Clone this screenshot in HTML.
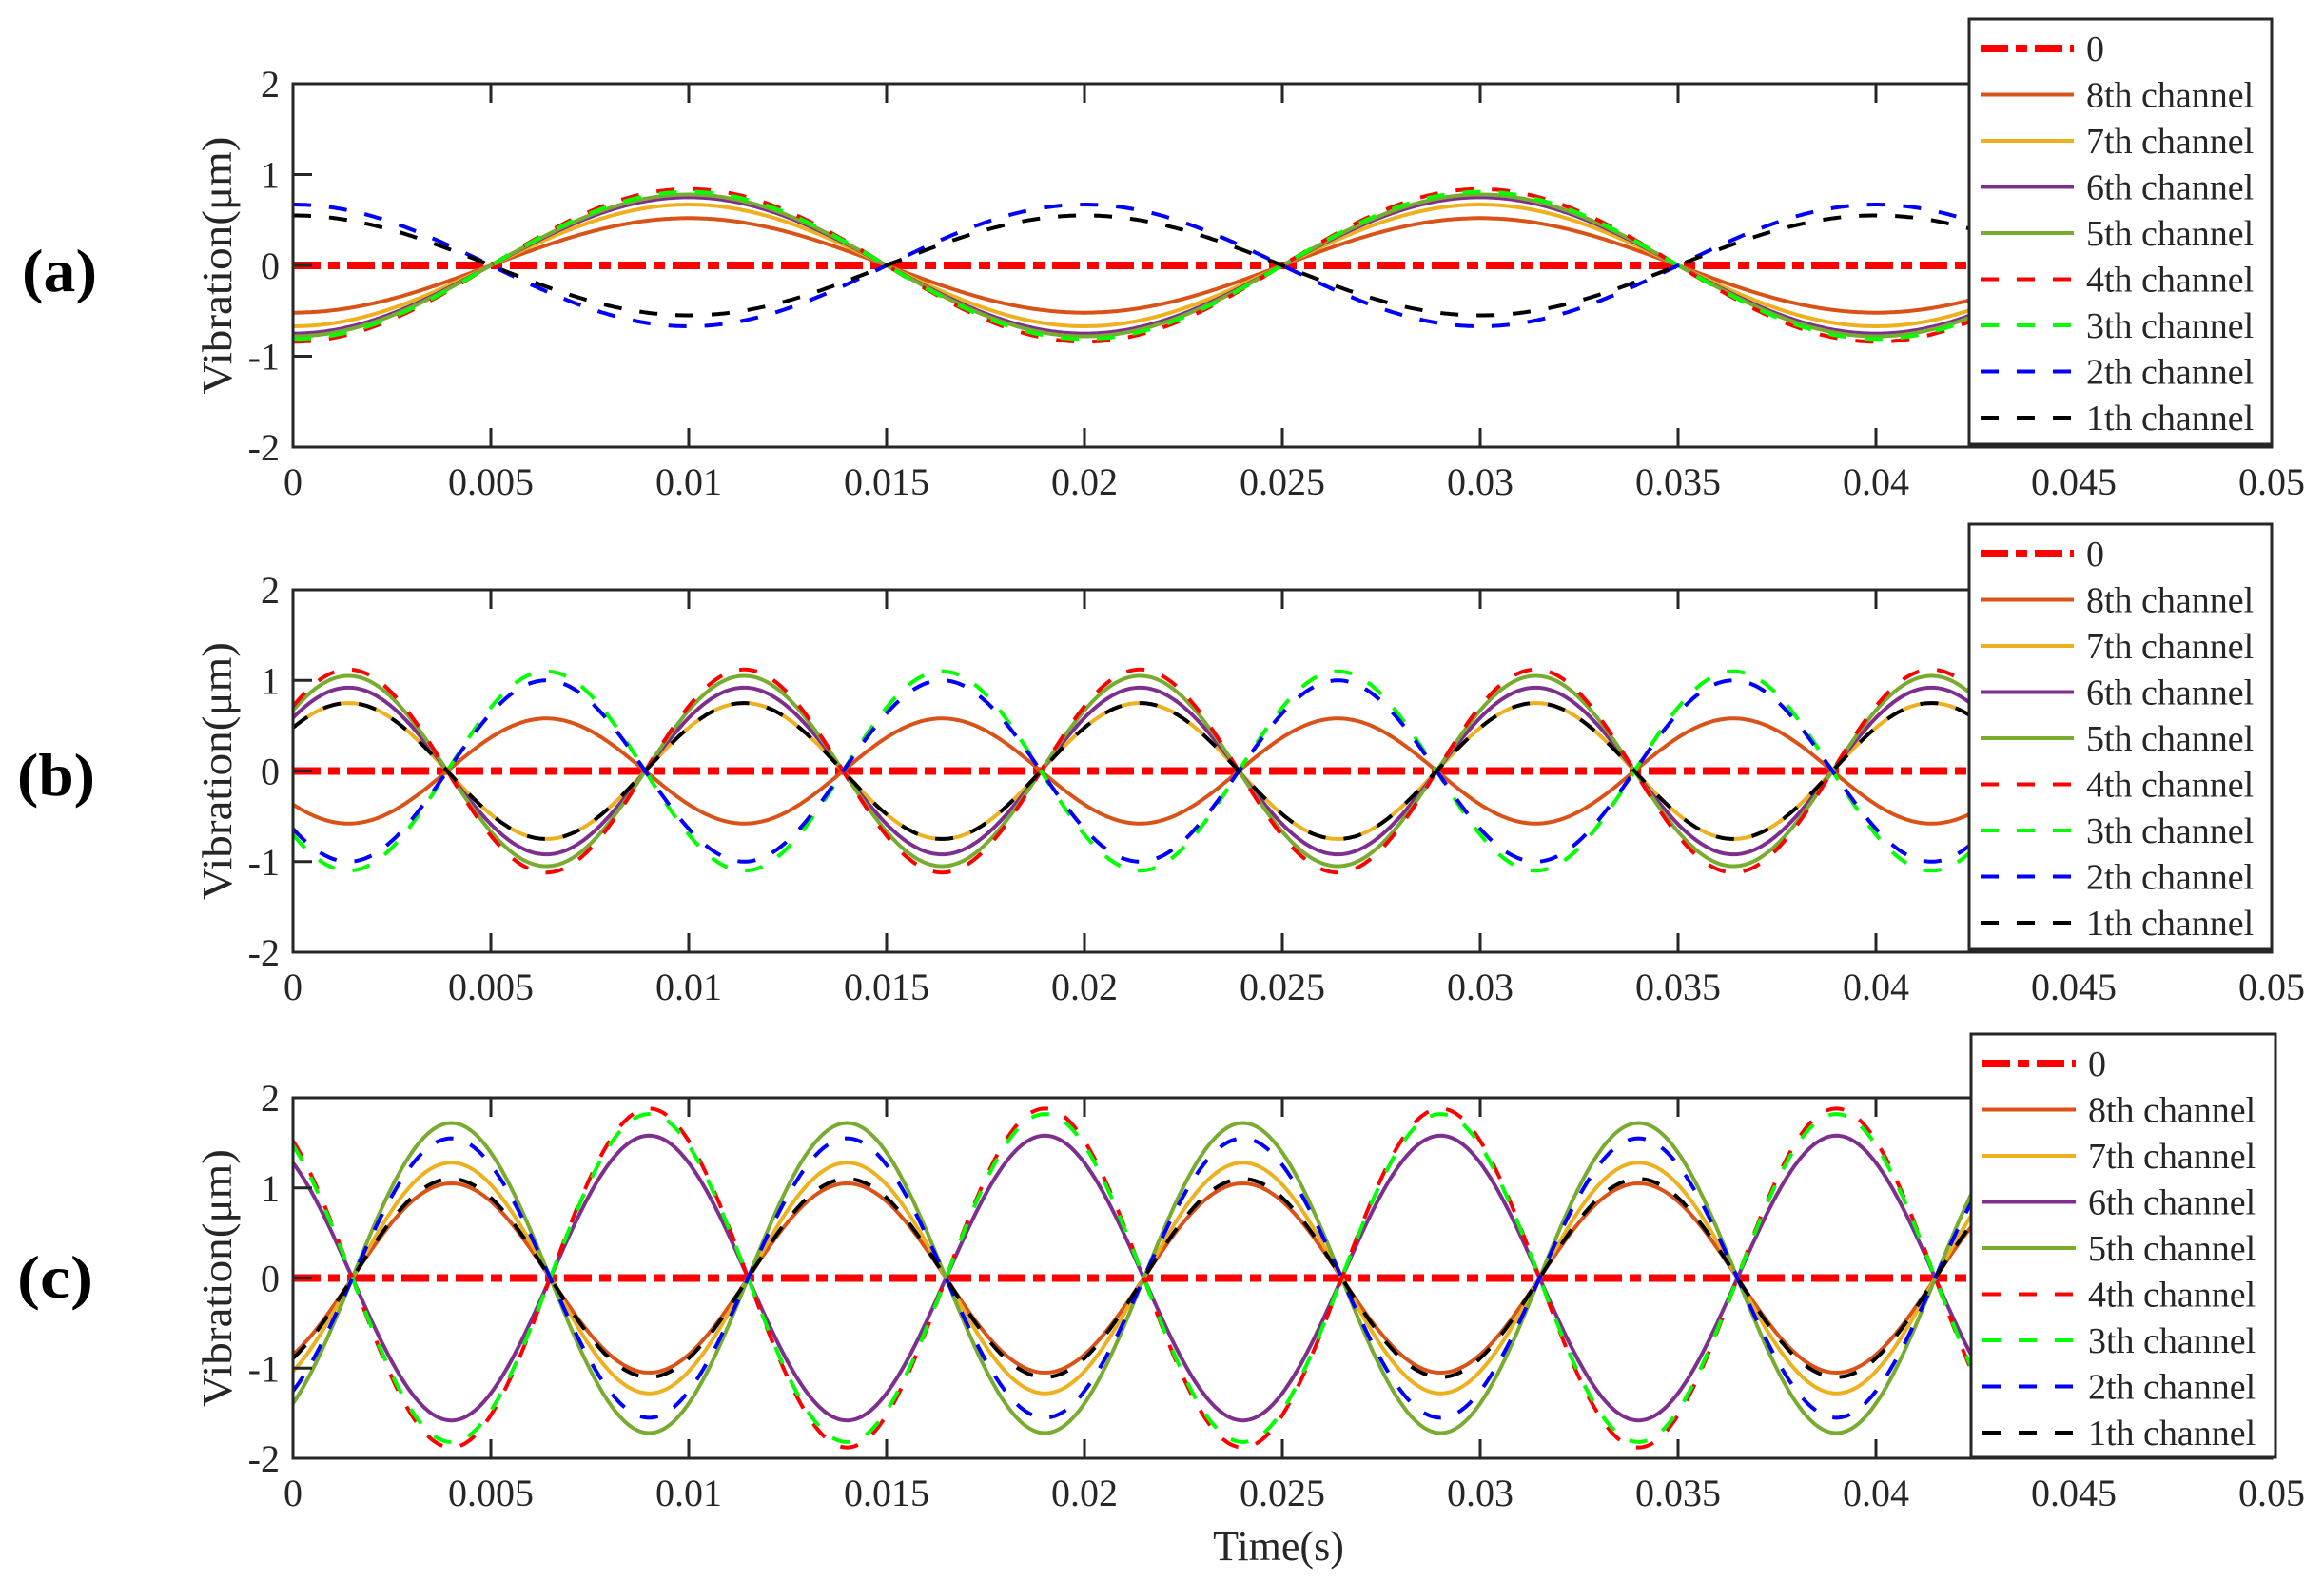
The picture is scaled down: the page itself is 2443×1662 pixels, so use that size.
<!DOCTYPE html>
<html><head><meta charset="utf-8"><style>
html,body{margin:0;padding:0;background:#fff;}
svg{display:block;}
text{font-family:"Liberation Serif",serif;fill:#262626;}
</style></head><body>
<svg id="s" width="2443" height="1662" viewBox="0 0 2443 1662" xmlns="http://www.w3.org/2000/svg">
<g id="g"></g>
<text x="1344" y="1640" font-size="44" text-anchor="middle">Time(s)</text>
<text x="23" y="306" font-size="64" font-weight="bold" textLength="79" lengthAdjust="spacingAndGlyphs" style="fill:#000">(a)</text>
<text x="18" y="836" font-size="64" font-weight="bold" textLength="82" lengthAdjust="spacingAndGlyphs" style="fill:#000">(b)</text>
<text x="18" y="1364" font-size="64" font-weight="bold" textLength="80" lengthAdjust="spacingAndGlyphs" style="fill:#000">(c)</text>
</svg>
<script>
(function(){
var g=document.getElementById('g');var NS='http://www.w3.org/2000/svg';
function el(t,a,txt){var e=document.createElementNS(NS,t);for(var k in a)e.setAttribute(k,a[k]);if(txt!=null)e.textContent=txt;g.appendChild(e);return e;}
var L=308,R=2388;
var C={c8:'#D95319',c7:'#EDB120',c6:'#7E2F8E',c5:'#77AC30',c4:'#FF0000',c3:'#00FF00',c2:'#0000FF',c1:'#000000'};
var names=['0','8th channel','7th channel','6th channel','5th channel','4th channel','3th channel','2th channel','1th channel'];
var cols=['#FF0000',C.c8,C.c7,C.c6,C.c5,C.c4,C.c3,C.c2,C.c1];
var dash=[null,null,null,null,null,'19,19','19,19','19,19','19,19'];
var panels=[
 {top:88,bot:470,lg:[2070,20,2388,467],f:function(A,t){return A*Math.sin(2*Math.PI*50*(t-0.005));},
  amps:[0.52,0.67,0.75,0.78,0.84,0.81,-0.67,-0.55]},
 {top:620,bot:1001,lg:[2070,551,2388,998],f:function(A,t){return A*Math.cos(2*Math.PI*100*(t-0.0014));},
  amps:[-0.58,0.75,0.92,1.05,1.12,-1.1,-1.0,0.75]},
 {top:1154,bot:1533,lg:[2072,1087,2392,1532],f:function(A,t){return A*Math.sin(2*Math.PI*100*(t-0.0015));},
  amps:[1.05,1.28,-1.58,1.72,-1.88,-1.82,1.55,1.1]}
];
panels.forEach(function(p){
 var T=p.top,B=p.bot,H=B-T,zy=(T+B)/2,u=H/4;
 function X(t){return L+(t/0.05)*(R-L);}
 function Y(v){return zy-v*u;}
 var cx=229,cy=(T+B)/2;
 el('text',{x:cx,y:cy,'font-size':44,'text-anchor':'middle',transform:'rotate(-90 '+cx+' '+(cy)+')',dy:'14',textLength:'271',lengthAdjust:'spacingAndGlyphs'},'Vibration(\u03BCm)');
 var k;
 el('line',{x1:L,y1:zy,x2:R,y2:zy,stroke:'#FF0000','stroke-width':8,'stroke-dasharray':'29,8,12,8'});
 for(k=0;k<8;k++){
  var d='';for(var i=0;i<=800;i++){var t=0.05*i/800;d+=(i?'L':'M')+X(t).toFixed(1)+' '+Y(p.f(p.amps[k],t)).toFixed(1);}
  var a={d:d,fill:'none',stroke:cols[k+1],'stroke-width':4};
  if(dash[k+1])a['stroke-dasharray']=dash[k+1];
  el('path',a);
 }
 el('rect',{x:L,y:T,width:R-L,height:H,fill:'none',stroke:'#262626','stroke-width':3});
 for(k=0;k<=10;k++){var x=X(k*0.005);
  el('line',{x1:x,y1:B,x2:x,y2:B-20,stroke:'#262626','stroke-width':3});
  el('line',{x1:x,y1:T,x2:x,y2:T+20,stroke:'#262626','stroke-width':3});
  var lab=['0','0.005','0.01','0.015','0.02','0.025','0.03','0.035','0.04','0.045','0.05'][k];
  el('text',{x:x,y:B+50,'font-size':40,'text-anchor':'middle'},lab);
 }
 for(k=-2;k<=2;k++){var y=Y(k);
  el('line',{x1:L,y1:y,x2:L+20,y2:y,stroke:'#262626','stroke-width':3});
  el('line',{x1:R,y1:y,x2:R-20,y2:y,stroke:'#262626','stroke-width':3});
  el('text',{x:294,y:y+14,'font-size':40,'text-anchor':'end'},String(k));
 }
 var lg=p.lg;
 el('rect',{x:lg[0],y:lg[1],width:lg[2]-lg[0],height:lg[3]-lg[1],fill:'#fff',stroke:'#262626','stroke-width':3});
 for(k=0;k<9;k++){var yy=lg[1]+31+k*48.5;
  var a2={x1:lg[0]+12,y1:yy,x2:lg[0]+110,y2:yy,stroke:cols[k],'stroke-width':k==0?8:4};
  if(k==0)a2['stroke-dasharray']='29,8,12,8';
  else if(dash[k])a2['stroke-dasharray']='19,19';
  el('line',a2);
  el('text',{x:lg[0]+123,y:yy+13,'font-size':38},names[k]);
 }
});
})();
</script>
</body></html>
